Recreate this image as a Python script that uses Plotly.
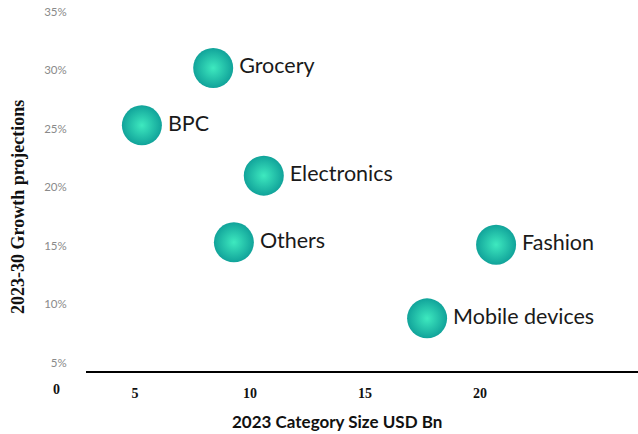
import plotly.graph_objects as go

categories = ["Grocery", "BPC", "Electronics", "Others", "Fashion", "Mobile devices"]
size_usd_bn = [8.4, 5.3, 10.6, 9.3, 20.7, 17.7]
growth_pct = [30.2, 25.3, 21.0, 15.3, 15.1, 8.8]
x_ticks = [5, 10, 15, 20]
y_ticks = [5, 10, 15, 20, 25, 30, 35]

fig = go.Figure()
fig.add_trace(go.Scatter(
    x=size_usd_bn, y=growth_pct, text=categories,
    mode="markers+text", textposition="middle right",
    textfont=dict(family="Lato, sans-serif", size=21.5, color="#1a1a1a"),
    marker=dict(size=40, color="#11a39a",
                gradient=dict(type="radial", color="#3ee9bf"),
                line=dict(width=0)),
    cliponaxis=False, hoverinfo="skip", showlegend=False,
))

fig.update_layout(
    width=638, height=434,
    margin=dict(l=86, r=0, t=6, b=63),
    paper_bgcolor="white", plot_bgcolor="white",
    xaxis=dict(
        range=[2.87, 26.87], tickvals=x_ticks, ticktext=[f"<b>{v}</b>" for v in x_ticks],
        showgrid=False, zeroline=False, showline=True, linecolor="black", linewidth=2,
        ticks="outside", ticklen=8, tickcolor="rgba(0,0,0,0)",
        tickfont=dict(family="Liberation Serif, serif", size=14, color="#111"),
    ),
    yaxis=dict(
        range=[4.3, 35.5], tickvals=y_ticks, ticktext=[f"{v}%" for v in y_ticks],
        showgrid=False, zeroline=False, showline=False,
        ticks="outside", ticklen=16, tickcolor="rgba(0,0,0,0)",
        tickfont=dict(family="Lato, sans-serif", size=11.5, color="#8a8a8a"),
    ),
    annotations=[
        dict(text="<b>0</b>", xref="paper", yref="paper", x=-0.0543, y=-0.052,
             xanchor="center", yanchor="middle", showarrow=False,
             font=dict(family="Liberation Serif, serif", size=14, color="#111")),
        dict(text="<b>2023 Category Size USD Bn</b>", xref="paper", yref="paper",
             x=(337 - 86) / 552, y=-(421 - 371) / 365,
             xanchor="center", yanchor="middle", showarrow=False,
             font=dict(family="Lato, sans-serif", size=17, color="#111")),
        dict(text="<b>2023-30 Growth projections</b>", xref="paper", yref="paper",
             x=(18 - 86) / 552, y=(371 - 207) / 365, textangle=-90,
             xanchor="center", yanchor="middle", showarrow=False,
             font=dict(family="Liberation Serif, serif", size=18, color="#111")),
    ],
)

fig.write_html("out.html")
